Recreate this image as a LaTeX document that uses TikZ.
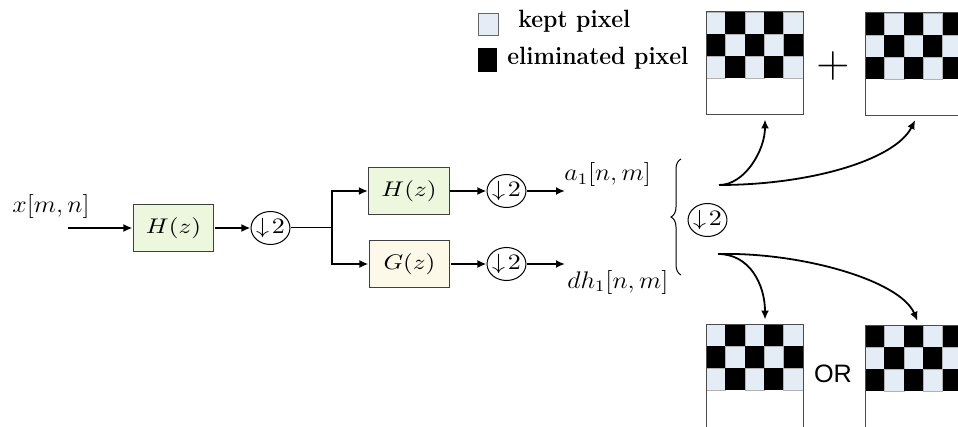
\RequirePackage{fix-cm}
\documentclass[tikz,border=0pt]{standalone}
\usepackage{fontspec}
\newfontfamily\orfont{Liberation Sans}
\usetikzlibrary{arrows.meta,decorations.pathreplacing}
\definecolor{keptcol}{RGB}{228,236,245}
\definecolor{hcol}{RGB}{236,247,222}
\definecolor{gcol}{RGB}{253,249,232}
\tikzset{
  blk/.style={draw=black!75, line width=0.5pt, minimum width=34.3pt, minimum height=23.5pt, inner sep=0pt, xscale=1.18, font=\fontsize{10.6}{12}\selectfont},
  dwn/.style={draw, circle, line width=0.5pt, minimum size=16.5pt, inner sep=0pt, xscale=1.18, font=\fontsize{11}{12}\selectfont},
  lbl/.style={anchor=base west, inner sep=0pt, xscale=1.08, font=\fontsize{12}{14}\selectfont},
  sig/.style={line width=0.9pt, -{Latex[length=4.5pt,width=4pt]}},
  board/.style={draw=black!70, line width=0.5pt, minimum width=48.5pt, minimum height=51.5pt, inner sep=0pt},
  legtx/.style={anchor=base west, inner sep=0pt, xscale=0.92, font=\fontsize{12.5}{14}\selectfont\bfseries},
}

\begin{document}
\begin{tikzpicture}[x=0.5pt,y=-0.5pt]
\useasboundingbox (0,0) rectangle (958,427);
\clip (0,0) rectangle (958,427);

\node[blk, fill=hcol] (b1) at (173.5,228) {$H(z)$};
\node[dwn] (d1) at (270.5,228) {$\downarrow\!2$};
\node[blk, fill=hcol] (b2) at (409,191) {$H(z)$};
\node[blk, fill=gcol] (b3) at (409.5,264) {$G(z)$};
\node[dwn] (d2) at (506.5,191) {$\downarrow\!2$};
\node[dwn] (d3) at (506.5,264) {$\downarrow\!2$};
\node[dwn] (d4) at (707.5,220) {$\downarrow\!2$};

\node[lbl] (xl) at (12,213) {$x[m,n]$};
\node[lbl] (al) at (564,181) {$a_1[n,m]$};
\node[lbl] (dl) at (567,288) {$dh_1[n,m]$};

\coordinate (xin) at (68,228);
\coordinate (split) at (332,228);
\coordinate (aend) at (565,191);
\coordinate (dend) at (565,264);
\coordinate (up) at (719,185);
\coordinate (lo) at (718,254);
\coordinate (brtop) at (681,159);
\coordinate (brbot) at (681,275);

\draw[sig] (xin) -- (b1);
\draw[sig] (b1) -- (d1);
\draw[line width=0.5pt] (d1) -- (split);
\draw[sig] (split) |- (b2);
\draw[sig] (split) |- (b3);
\draw[sig] (b2) -- (d2);
\draw[sig] (b3) -- (d3);
\draw[sig] (d2) -- (aend);
\draw[sig] (d3) -- (dend);
\draw[line width=0.5pt, decorate, decoration={brace, amplitude=5pt}] (brbot) -- (brtop);

% legend
\node[draw=black!60, fill=keptcol, minimum width=10pt, minimum height=11pt, inner sep=0pt] (keptsq) at (488,24) {};
\node[legtx] (kepttx) at (518,28) {kept pixel};
\node[fill=black, minimum width=9.5pt, minimum height=12pt, inner sep=0pt] (elimsq) at (487.5,60) {};
\node[legtx] (elimtx) at (507,65) {eliminated pixel};

\foreach \nm/\bx/\by/\p in {bA/706/12/0,bB/865/13/1,bC/706/324/0,bD/865/325/1}{
  \foreach \r in {0,1,2}
    \foreach \c in {0,...,4}{
      \pgfmathtruncatemacro\k{mod(\r+\c+\p,2)}
      \ifnum\k=0
        \filldraw[fill=keptcol, draw=black!30, line width=0.3pt] (\bx+\c*19.4,\by+\r*22) rectangle +(19.4,22);
      \else
        \fill[black] (\bx+\c*19.4,\by+\r*22) rectangle +(19.4,22);
      \fi
    }
  \node[board] (\nm) at (\bx+48.5,\by+51.5) {};
}

\node[font=\fontsize{23}{24}\selectfont] (plus) at (833,66) {$+$};
\node[font=\orfont\fontsize{12.6}{14}\selectfont] (ortx) at (833,374) {OR};

\draw[sig, shorten >=2pt] (up) .. controls (745,185) and (765,150) .. ([xshift=5.25pt]bA.south);
\draw[sig, shorten >=2pt] (up) .. controls (810,185) and (895,160) .. ([xshift=1.75pt]bB.south);
\draw[sig, shorten >=2pt] (lo) .. controls (750,254) and (765,285) .. ([xshift=5.25pt]bC.north);
\draw[sig, shorten >=2pt] (lo) .. controls (800,252) and (900,280) .. ([xshift=2.75pt]bD.north);
\end{tikzpicture}
\end{document}
